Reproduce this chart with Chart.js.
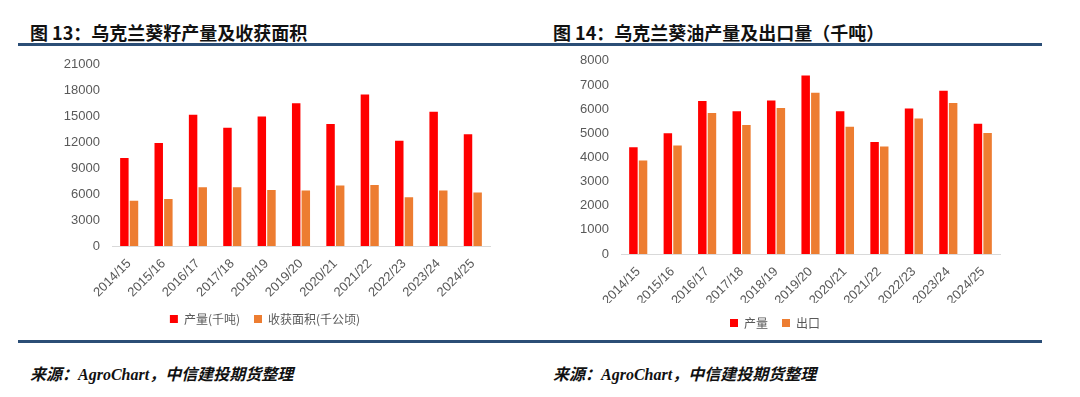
<!DOCTYPE html>
<html>
<head>
<meta charset="utf-8">
<script src="https://cdn.jsdelivr.net/npm/chart.js@4"></script>
<style>
    html, body { margin: 0; padding: 0; background: #fff; }
    body { width: 1080px; height: 397px; position: relative; overflow: hidden; font-family: "Noto Sans CJK SC", sans-serif; }
    .title { position: absolute; top: 19px; font-size: 18px; font-weight: 700; color: #111; white-space: nowrap; }
    .rule { position: absolute; left: 18px; width: 1024px; height: 3px; background: #2b4e76; }
    .src { position: absolute; top: 361px; font-family: "Liberation Serif", "Noto Sans CJK SC", serif; font-style: italic; font-weight: 700; font-size: 16px; color: #111; white-space: nowrap; }
    .box { position: absolute; }
</style>
</head>
<body>
<div class="title" style="left:30px">图 13：乌克兰葵籽产量及收获面积</div>
<div class="title" style="left:553px">图 14：乌克兰葵油产量及出口量（千吨）</div>
<div class="rule" style="top:43px"></div>
<div class="box" style="left:40px;top:45px;width:480px;height:290px"><canvas id="chartSeed"></canvas></div>
<div class="box" style="left:550px;top:41px;width:480px;height:298px"><canvas id="chartOil"></canvas></div>
<div class="rule" style="top:340px"></div>
<div class="src" style="left:30px">来源：AgroChart，中信建投期货整理</div>
<div class="src" style="left:553px">来源：AgroChart，中信建投期货整理</div>

<script>
(function () {
    "use strict";

    const seasons = ["2014/15", "2015/16", "2016/17", "2017/18", "2018/19", "2019/20", "2020/21", "2021/22", "2022/23", "2023/24", "2024/25"];

    const seedOutput = [10200, 11950, 15200, 13700, 15000, 16550, 14150, 17550, 12200, 15550, 12950];
    const seedArea = [5250, 5450, 6800, 6800, 6500, 6420, 7000, 7070, 5650, 6420, 6200];

    const oilOutput = [4420, 5000, 6340, 5910, 6360, 7390, 5910, 4640, 6020, 6760, 5390];
    const oilExport = [3870, 4490, 5840, 5340, 6050, 6680, 5270, 4450, 5610, 6250, 5010];

    const seedTicks = [0, 3000, 6000, 9000, 12000, 15000, 18000, 21000];
    const oilTicks = [0, 1000, 2000, 3000, 4000, 5000, 6000, 7000, 8000];

    const red = "#ff0000";
    const orange = "#ed7d31";
    const grey = "#595959";

    function makeChart(id, values, names, ticks, yWidth, xHeight, padTop) {
        const el = document.getElementById(id);
        return new Chart(el, {
            type: "bar",
            data: {
                labels: seasons,
                datasets: [
                    { label: names[0], data: values[0], backgroundColor: red, barPercentage: 0.88, categoryPercentage: 0.56 },
                    { label: names[1], data: values[1], backgroundColor: orange, barPercentage: 0.88, categoryPercentage: 0.56 }
                ]
            },
            options: {
                responsive: true,
                maintainAspectRatio: false,
                animation: false,
                layout: { padding: { top: padTop, right: 30, bottom: 0, left: 0 } },
                plugins: {
                    tooltip: { enabled: false },
                    legend: {
                        position: "bottom",
                        labels: {
                            color: grey,
                            boxWidth: 8,
                            boxHeight: 8,
                            padding: 14,
                            font: { family: "Noto Sans CJK SC", size: 12 }
                        }
                    }
                },
                scales: {
                    x: {
                        grid: { display: false },
                        border: { color: "#d9d9d9" },
                        ticks: { color: grey, minRotation: 45, maxRotation: 45, padding: 2, font: { family: "Liberation Sans", size: 13 } },
                        afterFit: (s) => { s.height = xHeight; }
                    },
                    y: {
                        min: ticks[0],
                        max: ticks[ticks.length - 1],
                        afterBuildTicks: (s) => { s.ticks = ticks.map((v) => ({ value: v })); },
                        grid: { display: false, drawTicks: false },
                        border: { display: false },
                        ticks: { color: grey, padding: 12, callback: (v) => String(v), font: { family: "Liberation Sans", size: 13 } },
                        afterFit: (s) => { s.width = yWidth; }
                    }
                }
            }
        });
    }

    makeChart("chartSeed", [seedOutput, seedArea], ["产量(千吨)", "收获面积(千公顷)"], seedTicks, 72, 53, 14);
    makeChart("chartOil", [oilOutput, oilExport], ["产量", "出口"], oilTicks, 71, 49, 7);
})();
</script>
</body>
</html>
